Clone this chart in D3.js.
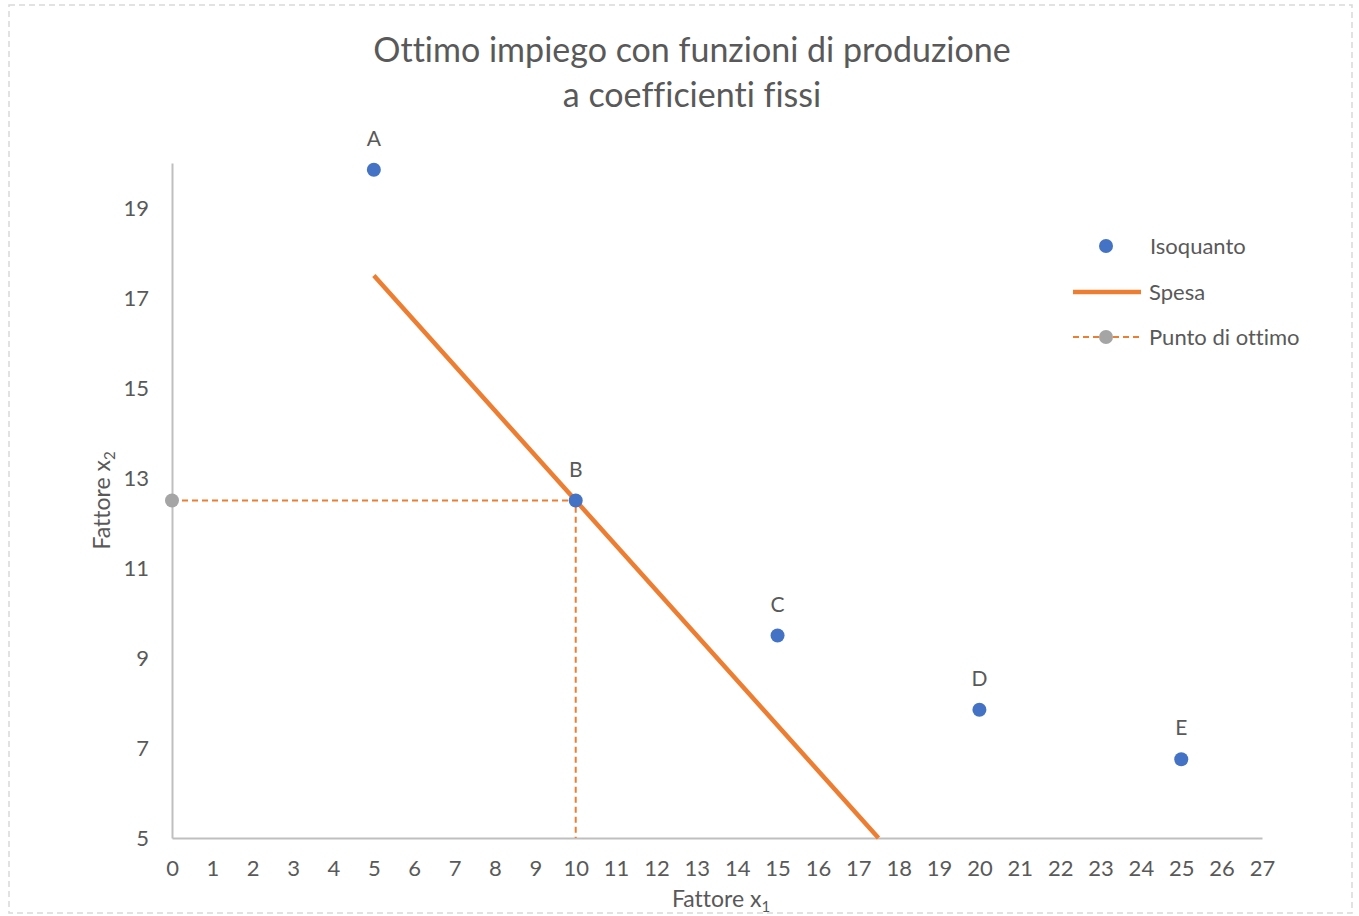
<!DOCTYPE html>
<html><head><meta charset="utf-8">
<script src="https://cdn.jsdelivr.net/npm/d3@7"></script>
<style>
body{margin:0;background:#fff;}
svg{display:block;font-family:Lato,"Open Sans",sans-serif;font-variant-ligatures:none;font-feature-settings:"liga" 0;}
</style></head>
<body>
<svg id="chart" width="1359" height="916"></svg>
<script>
// Data
const titleLines = ["Ottimo impiego con funzioni di produzione", "a coefficienti fissi"];
const isoLabels = ["A", "B", "C", "D", "E"];
const isoX = [5, 10, 15, 20, 25];
const isoY = [19.85, 12.5, 9.5, 7.85, 6.75];
const spesaX = [5, 17.5];
const spesaY = [17.5, 5];
const ottimoX = [0, 10, 10];
const ottimoY = [12.5, 12.5, 5];
const optimumPointX = [0];
const optimumPointY = [12.5];
const xTicks = d3.range(0, 28, 1);
const yTicks = [5, 7, 9, 11, 13, 15, 17, 19];
const legendNames = ["Isoquanto", "Spesa", "Punto di ottimo"];

const blue = "#4472C4", orange = "#ED7D31", gray = "#A5A5A5", txt = "#595959", axisC = "#BFBFBF";
const FF = "Lato, 'Open Sans', sans-serif";

const svg = d3.select("#chart");
// outer dashed border
svg.append("rect").attr("x", 9).attr("y", 5).attr("width", 1343).attr("height", 908)
  .attr("fill", "none").attr("stroke", "#d9d9d9").attr("stroke-width", 1.5).attr("stroke-dasharray", "6,4");

const x = d3.scaleLinear().domain([0, 27]).range([172, 1262]);
const y = d3.scaleLinear().domain([5, 20]).range([838, 163]);

// title
svg.append("text").attr("text-anchor", "middle")
  .attr("fill", txt).attr("font-size", 34)
  .selectAll("tspan").data(titleLines).join("tspan")
  .attr("x", 692).attr("y", (d, i) => 62 + i * 45).text(d => d);

// axes
const xAxis = svg.append("g").attr("transform", `translate(0,${y(5)})`)
  .call(d3.axisBottom(x).tickValues(xTicks).tickSize(0).tickPadding(22).tickFormat(d3.format("d")));
const yAxis = svg.append("g").attr("transform", `translate(${x(0)},0)`)
  .call(d3.axisLeft(y).tickValues(yTicks).tickSize(0).tickPadding(23).tickFormat(d3.format("d")));
[xAxis, yAxis].forEach(g => {
  g.select(".domain").attr("stroke", axisC).attr("stroke-width", 2);
  g.selectAll("text").attr("fill", txt).attr("font-size", 22).attr("font-family", FF);
});

// axis titles
const xt = svg.append("text").attr("x", x(13.5) + 4).attr("y", 907).attr("text-anchor", "middle")
  .attr("fill", txt).attr("font-size", 23);
xt.append("tspan").text("Fattore x");
xt.append("tspan").attr("font-size", 15).attr("dy", 5).text("1");
const yt = svg.append("text").attr("transform", `translate(110,${y(12.5)}) rotate(-90)`).attr("text-anchor", "middle")
  .attr("fill", txt).attr("font-size", 23);
yt.append("tspan").text("Fattore x");
yt.append("tspan").attr("font-size", 15).attr("dy", 5).text("2");

const line = d3.line().x(d => x(d[0])).y(d => y(d[1]));

// optimum dashed
svg.append("path").datum(ottimoX.map((v, i) => [v, ottimoY[i]])).attr("d", line)
  .attr("fill", "none").attr("stroke", orange).attr("stroke-width", 2).attr("stroke-dasharray", "6,4");

// spesa line
svg.append("path").datum(spesaX.map((v, i) => [v, spesaY[i]])).attr("d", line)
  .attr("fill", "none").attr("stroke", orange).attr("stroke-width", 4.5);

// optimum point
svg.selectAll(".opt").data(optimumPointX.map((v, i) => [v, optimumPointY[i]])).join("circle")
  .attr("cx", d => x(d[0])).attr("cy", d => y(d[1])).attr("r", 7).attr("fill", gray);

// isoquant points
const iso = isoX.map((v, i) => ({x: v, y: isoY[i], l: isoLabels[i]}));
svg.selectAll(".iso").data(iso).join("circle")
  .attr("cx", d => x(d.x)).attr("cy", d => y(d.y)).attr("r", 7).attr("fill", blue);
svg.selectAll(".lbl").data(iso).join("text")
  .attr("x", d => x(d.x)).attr("y", d => y(d.y) - 24).attr("text-anchor", "middle")
  .attr("fill", txt).attr("font-size", 21).text(d => d.l);

// legend
const lg = svg.append("g");
const ly = [246, 292, 337];
lg.append("circle").attr("cx", 1106).attr("cy", ly[0]).attr("r", 7).attr("fill", blue);
lg.append("line").attr("x1", 1073).attr("x2", 1141).attr("y1", ly[1]).attr("y2", ly[1])
  .attr("stroke", orange).attr("stroke-width", 4.5);
lg.append("line").attr("x1", 1073).attr("x2", 1141).attr("y1", ly[2]).attr("y2", ly[2])
  .attr("stroke", orange).attr("stroke-width", 2).attr("stroke-dasharray", "6,4");
lg.append("circle").attr("cx", 1106).attr("cy", ly[2]).attr("r", 7).attr("fill", gray);
lg.selectAll("text").data(legendNames).join("text")
  .attr("x", (d, i) => i === 0 ? 1150 : 1149).attr("y", (d, i) => ly[i] + 8)
  .attr("fill", txt).attr("font-size", 22).text(d => d);
</script>
</body></html>
